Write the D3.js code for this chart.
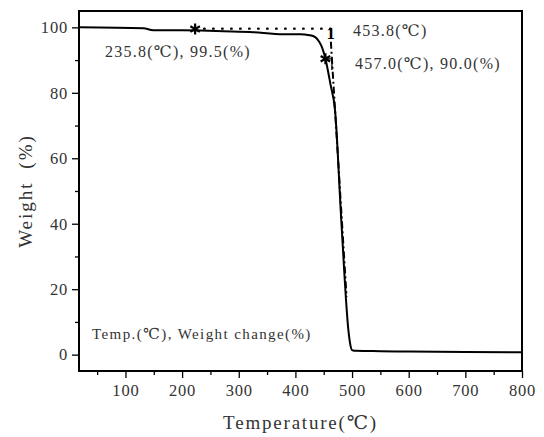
<!DOCTYPE html>
<html lang="en">
  <head>
    <meta charset="UTF-8" />
    <title>TGA curve</title>
    <script src="https://d3js.org/d3.v7.min.js"></script>
    <style>
      body {
        margin: 0;
        background: #fff;
      }
      svg {
        display: block;
        font-family: "Liberation Serif", "DejaVu Serif", "Noto Sans CJK KR", serif;
      }
    </style>
  </head>
  <body>
    <script>
      // TGA curve
      const temps = [18, 132, 149, 200, 260, 320, 379, 408, 425, 435, 442, 447, 453, 462, 470, 481, 494, 497, 500, 507, 550, 600, 700, 800];
      const weights = [100, 99.7, 99.1, 99.1, 98.9, 98.6, 97.9, 97.9, 97.6, 97.0, 95.6, 93.9, 90.4, 82.5, 74.6, 41, 6.7, 3.0, 1.4, 1.15, 1.05, 0.95, 0.8, 0.7];

      // marker points (star symbols) and the onset construction
      const starT = [223, 453];
      const starW = [99.5, 90.4];
      const baseLineT = [223, 462];
      const baseLineW = [99.6, 99.6];
      const tangentT = [462.6, 490.3];
      const tangentW = [95.6, 17.6];
      const onsetT = 462.6;
      const onsetW = 98;

      const xTicks = [100, 200, 300, 400, 500, 600, 700, 800];
      const xMinor = [50, 150, 250, 350, 450, 550, 650, 750];
      const yTicks = [0, 20, 40, 60, 80, 100];
      const yMinor = [10, 30, 50, 70, 90];

      const W = 544, H = 437;
      const margin = { top: 11, right: 22, bottom: 66, left: 79 };
      const width = W - margin.left - margin.right;
      const height = H - margin.top - margin.bottom;

      const svg = d3.select("body").append("svg").attr("width", W).attr("height", H);
      const g = svg.append("g").attr("transform", `translate(${margin.left},${margin.top})`);

      const x = d3.scaleLinear().domain([18, 800]).range([0, width]);
      const y = d3.scaleLinear().domain([-5, 105]).range([height, 0]);

      // axes (outward ticks)
      g.append("g").attr("transform", `translate(0,${height})`)
        .call(d3.axisBottom(x).tickValues(xTicks).tickSize(7).tickPadding(6).tickFormat(d3.format("d")));
      g.append("g").attr("transform", `translate(0,${height})`)
        .call(d3.axisBottom(x).tickValues(xMinor).tickSize(4).tickFormat(""));
      g.append("g")
        .call(d3.axisLeft(y).tickValues(yTicks).tickSize(7).tickPadding(4).tickFormat(d3.format("d")));
      g.append("g")
        .call(d3.axisLeft(y).tickValues(yMinor).tickSize(4).tickFormat(""));

      g.selectAll(".domain").remove();
      g.selectAll(".tick line").attr("stroke", "#000").attr("stroke-width", 1.3);
      g.selectAll(".tick text").attr("fill", "#333").style("font-size", "16.5px")
        .style("letter-spacing", "0.8px")
        .style("font-family", "Liberation Serif, DejaVu Serif, serif");

      // frame
      g.append("rect").attr("width", width).attr("height", height)
        .attr("fill", "none").attr("stroke", "#000").attr("stroke-width", 2);

      // baseline extension (dotted)
      g.append("path")
        .datum(d3.range(baseLineT.length))
        .attr("fill", "none").attr("stroke", "#000").attr("stroke-width", 2.4)
        .attr("stroke-dasharray", "0.5,8.5").attr("stroke-linecap", "round")
        .attr("d", d3.line().x((i) => x(baseLineT[i])).y((i) => y(baseLineW[i])));

      // curve
      g.append("path")
        .datum(d3.range(temps.length))
        .attr("fill", "none").attr("stroke", "#000").attr("stroke-width", 2)
        .attr("d", d3.line().curve(d3.curveMonotoneX).x((i) => x(temps[i])).y((i) => y(weights[i])));

      // tangent (dash-dot)
      g.append("path")
        .datum(d3.range(tangentT.length))
        .attr("fill", "none").attr("stroke", "#000").attr("stroke-width", 2)
        .attr("stroke-dasharray", "7,3,2,3")
        .attr("d", d3.line().x((i) => x(tangentT[i])).y((i) => y(tangentW[i])));

      // little step from star 2 to tangent
      g.append("path")
        .attr("fill", "none").attr("stroke", "#000").attr("stroke-width", 1.3)
        .attr("d", d3.line()([[x(starT[1]), y(starW[1])], [x(464.5), y(starW[1])], [x(464.5), y(87)]]));

      // star markers
      const r = 5.5;
      const starPath = [0, 60, 120].map((a) => {
        const t = ((a + 90) * Math.PI) / 180;
        return `M${-r * Math.cos(t)},${-r * Math.sin(t)}L${r * Math.cos(t)},${r * Math.sin(t)}`;
      }).join("");
      g.selectAll(".star").data(d3.range(starT.length)).enter().append("path")
        .attr("class", "star")
        .attr("transform", (i) => `translate(${x(starT[i])},${y(starW[i])})`)
        .attr("d", starPath).attr("stroke", "#000").attr("stroke-width", 2.2);

      // onset marker "1"
      g.append("text").attr("x", x(onsetT)).attr("y", y(onsetW))
        .attr("text-anchor", "middle").attr("dominant-baseline", "central")
        .style("font-size", "17px").style("font-weight", "bold").attr("fill", "#000")
        .text("1");

      // annotations
      const note = (tx, ty, s, size, ls) =>
        svg.append("text").attr("x", tx).attr("y", ty).attr("fill", "#333")
          .attr("dominant-baseline", "central").style("font-size", size + "px")
          .style("letter-spacing", ls + "px").text(s);
      note(105, 51, "235.8(℃), 99.5(%)", 16, 1.25);
      note(353, 30, "453.8(℃)", 16, 1.25);
      note(355, 63, "457.0(℃), 90.0(%)", 16, 1.25);
      note(92, 334, "Temp.(℃), Weight change(%)", 15, 1.4);

      // axis titles
      svg.append("text").attr("x", margin.left + width / 2).attr("y", 422)
        .attr("text-anchor", "middle").attr("dominant-baseline", "central")
        .attr("fill", "#333").style("font-size", "19px").style("letter-spacing", "1.8px")
        .text("Temperature(℃)");
      svg.append("text").attr("transform", `translate(25,${margin.top + height / 2}) rotate(-90)`)
        .attr("text-anchor", "middle").attr("dominant-baseline", "central")
        .attr("fill", "#333").style("font-size", "19px").style("letter-spacing", "2px")
        .style("word-spacing", "6px")
        .text("Weight (%)");
    </script>
  </body>
</html>
